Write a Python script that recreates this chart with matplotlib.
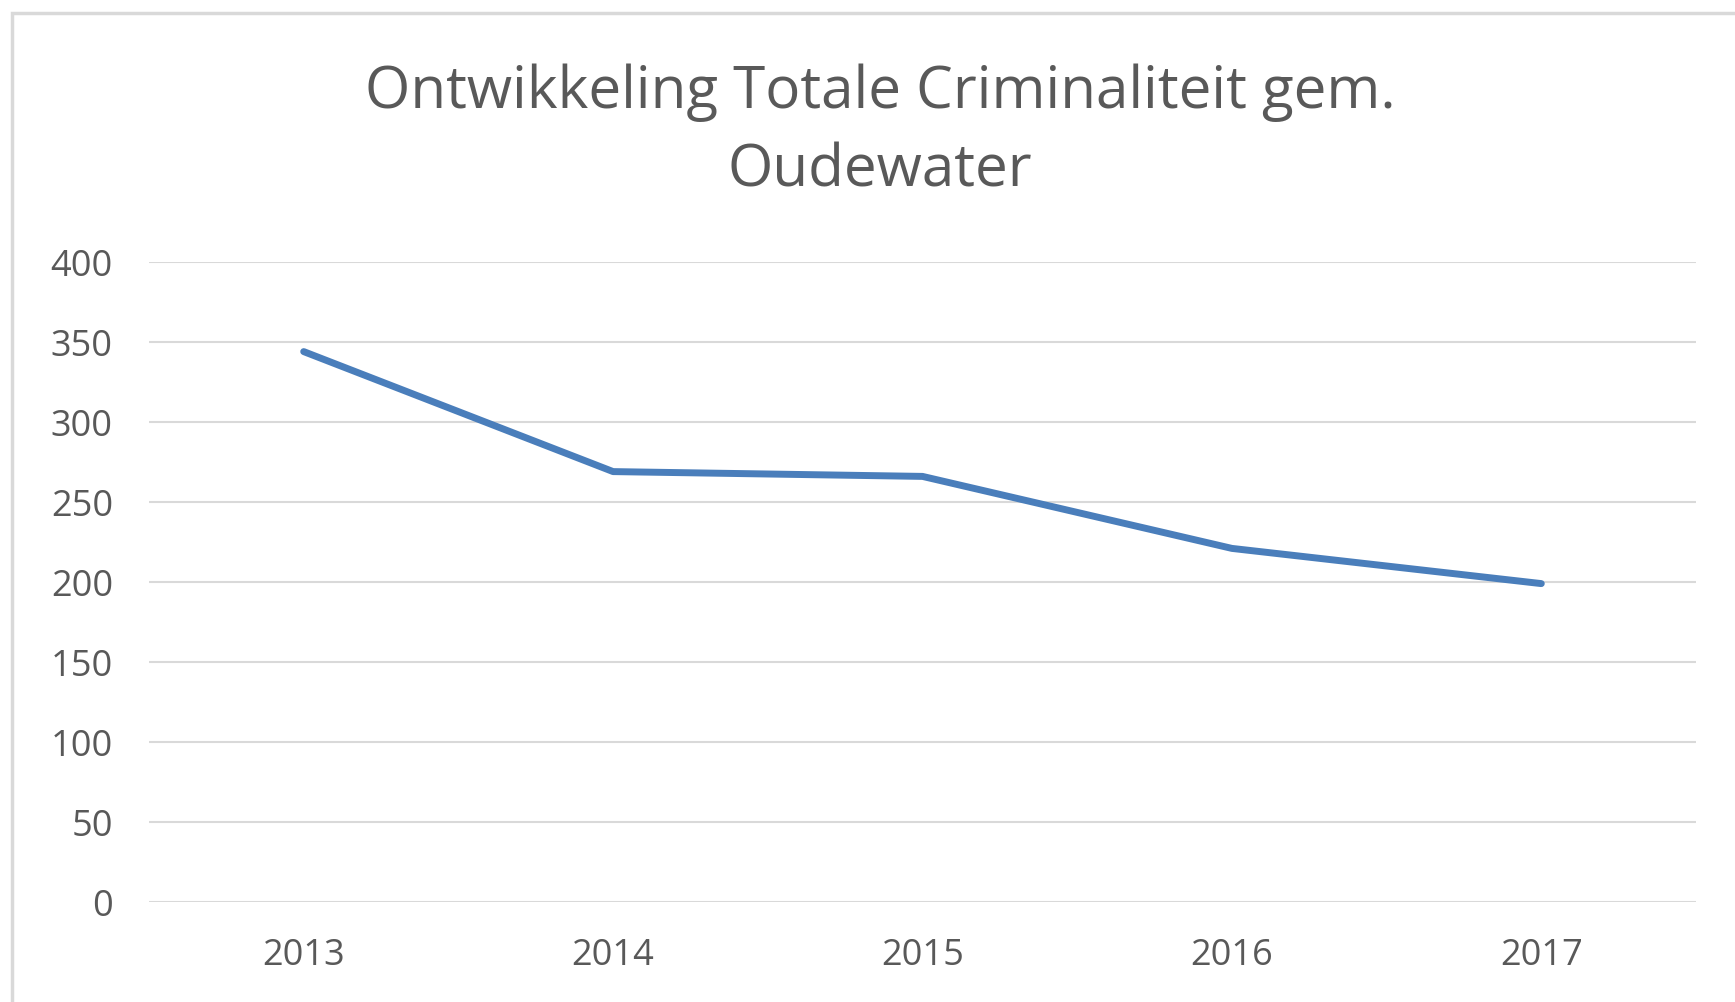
import matplotlib.pyplot as plt
from matplotlib.patches import Rectangle

years = ['2013', '2014', '2015', '2016', '2017']
misdrijven = [344, 269, 266, 221, 199]
y_ticks = [0, 50, 100, 150, 200, 250, 300, 350, 400]

plt.rcParams['font.family'] = ['Open Sans', 'DejaVu Sans']

W, H = 1735, 1002
fig = plt.figure(figsize=(W / 100, H / 100), dpi=100)

# light grey chart-area border (right/bottom run off the picture)
fig.patches.append(Rectangle((12 / W, -0.05), 1.2, (H - 13) / H + 0.05,
                             transform=fig.transFigure, fill=False,
                             edgecolor='#d9d9d9', linewidth=2.5))

ax = fig.add_axes([149 / W, 1 - 902 / H, (1696 - 149) / W, (902 - 262) / H])
ax.plot(range(len(years)), misdrijven, color='#4a7ebb', linewidth=5,
        solid_capstyle='round', solid_joinstyle='round')

ax.set_xlim(-0.5, len(years) - 0.5)
ax.set_ylim(0, 400)
ax.set_yticks(y_ticks)
ax.set_xticks(range(len(years)))
ax.set_xticklabels(years)
ax.grid(axis='y', color='#d9d9d9', linewidth=1.5)
ax.set_axisbelow(True)
for s in ax.spines.values():
    s.set_visible(False)
ax.tick_params(length=0, labelsize=26, colors='#595959')
ax.tick_params(axis='y', pad=26)
ax.tick_params(axis='x', pad=26)

fig.text(880 / W, 1 - 132 / H, 'Ontwikkeling Totale Criminaliteit gem.\nOudewater',
         ha='center', va='center', fontsize=42, color='#595959',
         linespacing=1.45)

fig.savefig('out.png', dpi=100)
